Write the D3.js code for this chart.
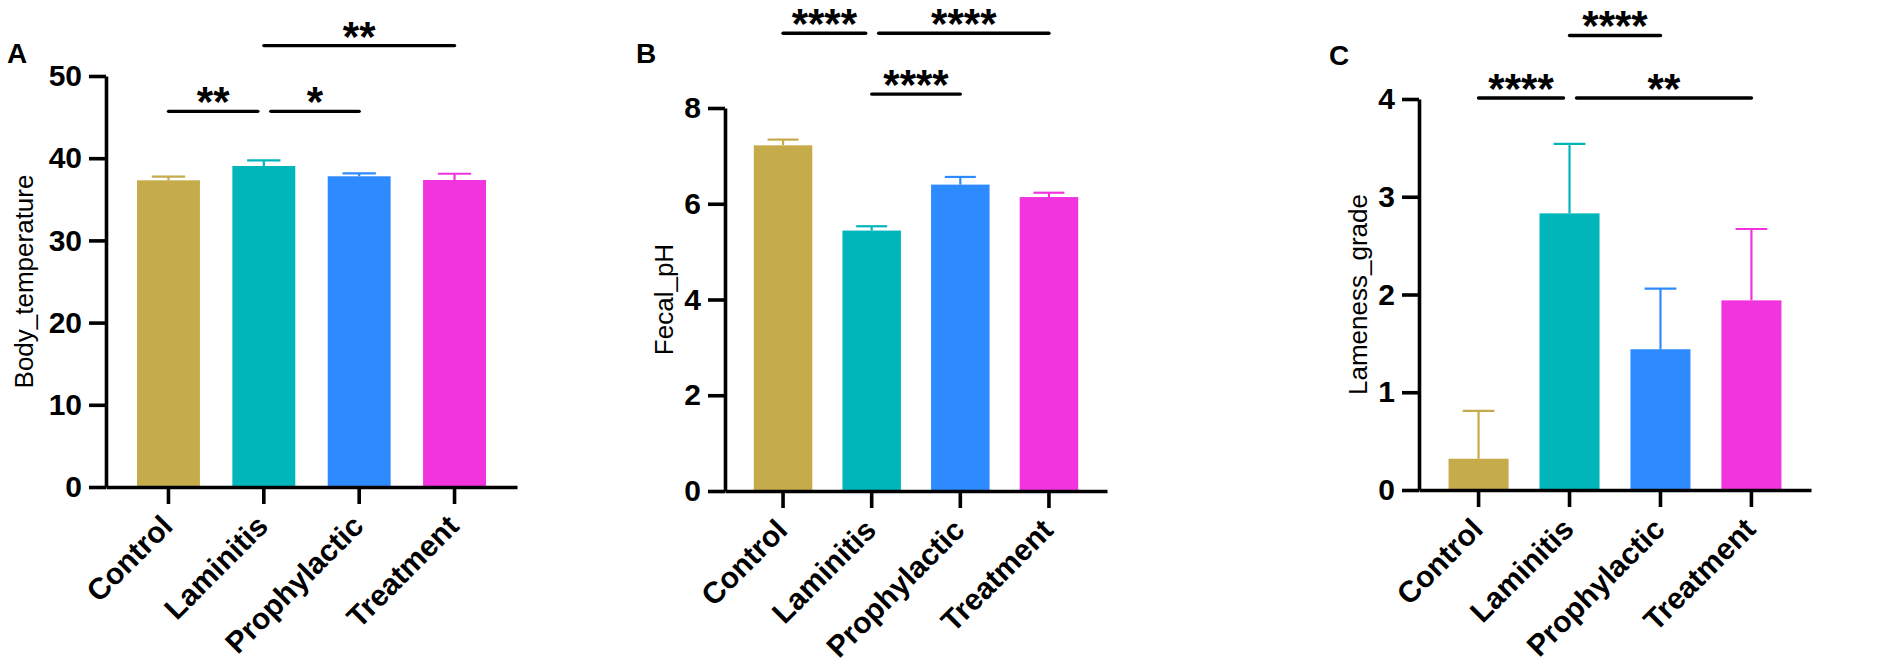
<!DOCTYPE html>
<html>
<head>
<meta charset="utf-8">
<script src="https://cdn.jsdelivr.net/npm/d3@7"></script>
<style>
  html, body { margin: 0; padding: 0; background: #fff; }
  svg { display: block; font-family: "Liberation Sans", Arial, sans-serif; }
</style>
</head>
<body>
<div id="chart"></div>
<script>
// groups and colours shared by the three panels
const categories = ['Control', 'Laminitis', 'Prophylactic', 'Treatment'];
const groupColors = ['#C6AB4B', '#00B6BA', '#2E8BFF', '#F234DE'];

// A: body temperature
const bodyTempMean = [37.31, 39.05, 37.8, 37.35];
const bodyTempErr = [0.44, 0.69, 0.36, 0.76];
const bodyTempTicks = [0, 10, 20, 30, 40, 50];
// [from, to, level, label]
const bodyTempSig = [[0, 1, 0, '**'], [1, 2, 0, '*'], [1, 3, 1, '**']];

// B: fecal pH
const fecalPhMean = [7.22, 5.44, 6.4, 6.14];
const fecalPhErr = [0.12, 0.09, 0.16, 0.09];
const fecalPhTicks = [0, 2, 4, 6, 8];
const fecalPhSig = [[0, 1, 1, '****'], [1, 3, 1, '****'], [1, 2, 0, '****']];

// C: lameness grade
const lamenessMean = [0.32, 2.83, 1.44, 1.94];
const lamenessErr = [0.49, 0.71, 0.62, 0.73];
const lamenessTicks = [0, 1, 2, 3, 4];
const lamenessSig = [[0, 1, 0, '****'], [1, 3, 0, '**'], [1, 2, 1, '****']];

const panels = [
  { letter: 'A', title: 'Body_temperature', mean: bodyTempMean, err: bodyTempErr, ticks: bodyTempTicks, sig: bodyTempSig,
    max: 50, sigLevels: [45.7, 53.7], x0: 106, x1: 517, yBottom: 487, yTop: 76, titleX: 33, letterX: 7, letterY: 63 },
  { letter: 'B', title: 'Fecal_pH', mean: fecalPhMean, err: fecalPhErr, ticks: fecalPhTicks, sig: fecalPhSig,
    max: 8, sigLevels: [8.29, 9.56], x0: 725, x1: 1107, yBottom: 491, yTop: 108, titleX: 673, letterX: 636, letterY: 63 },
  { letter: 'C', title: 'Lameness_grade', mean: lamenessMean, err: lamenessErr, ticks: lamenessTicks, sig: lamenessSig,
    max: 4, sigLevels: [4.01, 4.65], x0: 1419, x1: 1811, yBottom: 490, yTop: 99, titleX: 1367, letterX: 1329, letterY: 65 }
];

const width = 1902, height = 669;
const svg = d3.select('#chart').append('svg')
  .attr('width', width)
  .attr('height', height);

svg.append('rect').attr('width', width).attr('height', height).attr('fill', '#fff');

panels.forEach(function(p) {
  const g = svg.append('g');

  const x = d3.scaleBand()
    .domain(categories)
    .range([p.x0, p.x1])
    .paddingInner(0.34)
    .paddingOuter(0.325);

  const y = d3.scaleLinear()
    .domain([0, p.max])
    .range([p.yBottom, p.yTop]);

  const rows = categories.map(function(c, i) {
    return { cat: c, mean: p.mean[i], err: p.err[i], color: groupColors[i] };
  });

  // bars
  g.selectAll('rect.bar')
    .data(rows)
    .join('rect')
    .attr('class', 'bar')
    .attr('x', function(d) { return x(d.cat); })
    .attr('width', x.bandwidth())
    .attr('y', function(d) { return y(d.mean); })
    .attr('height', function(d) { return y(0) - y(d.mean); })
    .attr('fill', function(d) { return d.color; });

  // upper error bars
  const capHalf = x.bandwidth() * 0.265;
  const eb = g.selectAll('g.err')
    .data(rows)
    .join('g')
    .attr('class', 'err')
    .attr('stroke', function(d) { return d.color; })
    .attr('stroke-width', 2.2);
  eb.append('line')
    .attr('x1', function(d) { return x(d.cat) + x.bandwidth() / 2; })
    .attr('x2', function(d) { return x(d.cat) + x.bandwidth() / 2; })
    .attr('y1', function(d) { return y(d.mean); })
    .attr('y2', function(d) { return y(d.mean + d.err); });
  eb.append('line')
    .attr('x1', function(d) { return x(d.cat) + x.bandwidth() / 2 - capHalf; })
    .attr('x2', function(d) { return x(d.cat) + x.bandwidth() / 2 + capHalf; })
    .attr('y1', function(d) { return y(d.mean + d.err); })
    .attr('y2', function(d) { return y(d.mean + d.err); });

  // y axis
  const yAxis = d3.axisLeft(y)
    .tickValues(p.ticks)
    .tickFormat(d3.format('d'))
    .tickSize(17)
    .tickSizeOuter(0)
    .tickPadding(7);
  const ya = g.append('g')
    .attr('transform', 'translate(' + p.x0 + ',0)')
    .call(yAxis);
  ya.selectAll('path, line').attr('stroke', '#000').attr('stroke-width', 3.6);
  ya.selectAll('text')
    .attr('fill', '#000')
    .style('font-size', '30px')
    .style('font-weight', 'bold');

  // x axis
  const xAxis = d3.axisBottom(x).tickSize(17).tickSizeOuter(0);
  const xa = g.append('g')
    .attr('transform', 'translate(0,' + p.yBottom + ')')
    .call(xAxis);
  xa.selectAll('path, line').attr('stroke', '#000').attr('stroke-width', 3.6);
  xa.selectAll('text')
    .attr('fill', '#000')
    .attr('x', 0)
    .attr('y', 0)
    .attr('dy', 0)
    .attr('text-anchor', 'end')
    .attr('transform', 'translate(6,41) rotate(-45)')
    .style('font-size', '30px')
    .style('font-weight', 'bold');

  // axis title
  g.append('text')
    .attr('transform', 'translate(' + p.titleX + ',' + (p.yTop + p.yBottom) / 2 + ') rotate(-90)')
    .attr('text-anchor', 'middle')
    .style('font-size', '26px')
    .text(p.title);

  // panel letter
  g.append('text')
    .attr('x', p.letterX)
    .attr('y', p.letterY)
    .style('font-size', '28px')
    .style('font-weight', 'bold')
    .text(p.letter);

  // significance brackets
  const center = function(i) { return x(categories[i]) + x.bandwidth() / 2; };
  p.sig.forEach(function(s) {
    const same = p.sig.filter(function(o) { return o !== s && o[2] === s[2]; });
    const leftInset = same.some(function(o) { return o[1] === s[0]; }) ? 7 : 0;
    const rightInset = same.some(function(o) { return o[0] === s[1]; }) ? 6 : 0;
    const xa1 = center(s[0]) + leftInset;
    const xa2 = center(s[1]) - rightInset;
    const ly = y(p.sigLevels[s[2]]);
    g.append('line')
      .attr('x1', xa1).attr('x2', xa2)
      .attr('y1', ly).attr('y2', ly)
      .attr('stroke', '#000')
      .attr('stroke-width', 3.4)
      .attr('stroke-linecap', 'round');
    g.append('text')
      .attr('x', (xa1 + xa2) / 2)
      .attr('y', ly + 5)
      .attr('text-anchor', 'middle')
      .style('font-size', '42px')
      .style('font-weight', 'bold')
      .text(s[3]);
  });
});
</script>
</body>
</html>
